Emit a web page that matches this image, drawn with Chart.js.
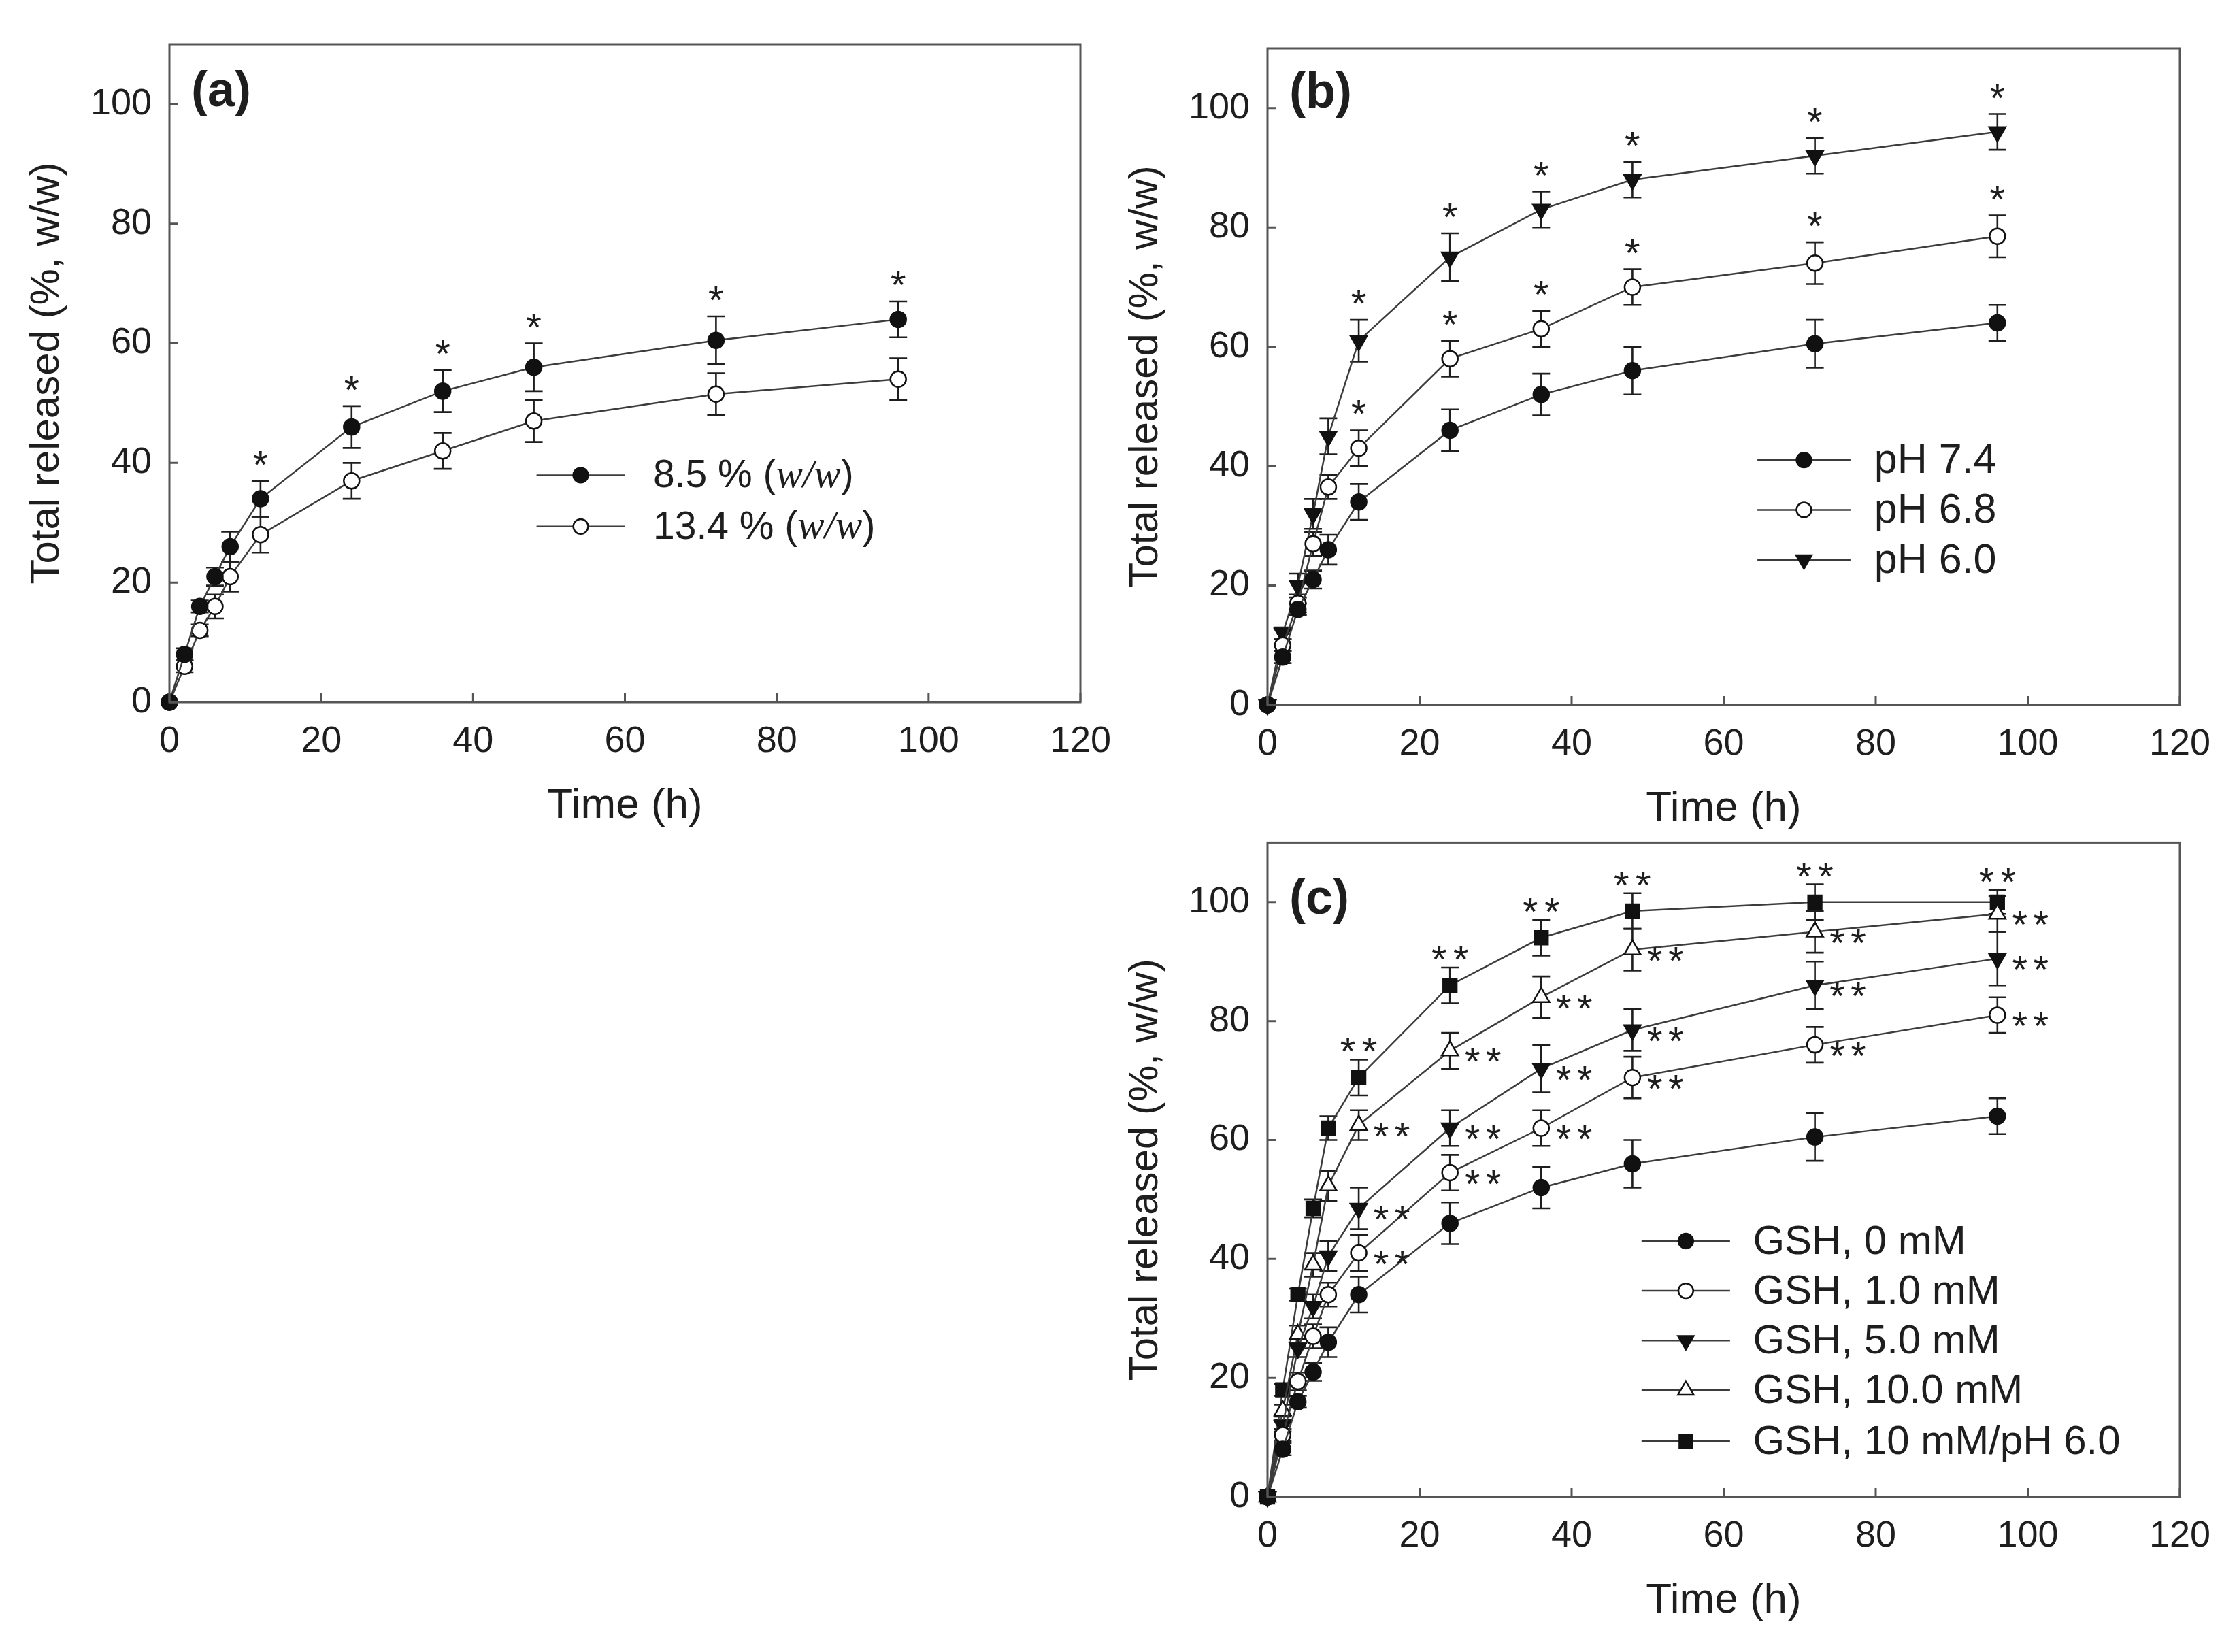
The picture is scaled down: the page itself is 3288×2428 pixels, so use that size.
<!DOCTYPE html>
<html>
<head>
<meta charset="utf-8">
<script src="https://cdn.jsdelivr.net/npm/chart.js@4.4.0/dist/chart.umd.min.js"></script>
<style>
  html, body { margin: 0; padding: 0; background: #fff; }
  body { width: 3288px; height: 2428px; position: relative; overflow: hidden; }
  canvas { position: absolute; }
</style>
</head>
<body>
<canvas id="ca" width="1660" height="1230" style="left:0px;top:0px"></canvas>
<canvas id="cb" width="1668" height="1230" style="left:1620px;top:0px"></canvas>
<canvas id="cc" width="1668" height="1248" style="left:1620px;top:1180px"></canvas>
<script>
// sampling times (h)
const time = [0, 2, 4, 6, 8, 12, 24, 36, 48, 72, 96];

// (a) loading content
const load85 = [0, 8, 16, 21, 26, 34, 46, 52, 56, 60.5, 64];
const load85Err = [0, 1, 1, 1.5, 2.5, 3, 3.5, 3.5, 4, 4, 3];
const load134 = [0, 6, 12, 16, 21, 28, 37, 42, 47, 51.5, 54];
const load134Err = [0, 1, 1, 2, 2.5, 3, 3, 3, 3.5, 3.5, 3.5];

// (b) pH
const ph74 = [0, 8, 16, 21, 26, 34, 46, 52, 56, 60.5, 64];
const ph74Err = [0, 1, 1, 1.5, 2.5, 3, 3.5, 3.5, 4, 4, 3];
const ph68 = [0, 10, 17, 27, 36.5, 43, 58, 63, 70, 74, 78.5];
const ph68Err = [0, 1, 1.5, 2, 2, 3, 3, 3, 3, 3.5, 3.5];
const ph60 = [0, 12, 20, 32, 45, 61, 75, 83, 88, 92, 96];
const ph60Err = [0, 1, 2, 2.5, 3, 3.5, 4, 3, 3, 3, 3];

// (c) GSH
const gsh0 = [0, 8, 16, 21, 26, 34, 46, 52, 56, 60.5, 64];
const gsh0Err = [0, 1, 1, 1.5, 2.5, 3, 3.5, 3.5, 4, 4, 3];
const gsh1 = [0, 10.4, 19.4, 27, 34, 41, 54.5, 62, 70.5, 76, 81];
const gsh1Err = [0, 1, 1.5, 2, 2, 3, 3, 3, 3.5, 3, 3];
const gsh5 = [0, 12, 25, 32, 40.5, 48.5, 62, 72, 78.5, 86, 90.5];
const gsh5Err = [0, 1, 1.5, 2, 2.5, 3.5, 3, 4, 3.5, 4, 4.5];
const gsh10 = [0, 14.5, 27.3, 39, 52.3, 62.5, 75, 84, 92, 95, 98];
const gsh10Err = [0, 1, 1.5, 2, 2.5, 2.5, 3, 3.5, 3.5, 3.5, 3];
const gsh10ph6 = [0, 18, 34, 48.5, 62, 70.5, 86, 94, 98.5, 100, 100];
const gsh10ph6Err = [0, 1, 1, 1.5, 2, 3, 3, 3, 3, 3, 2];

// indices of time points marked significant
const starIdx = [5, 6, 7, 8, 9, 10];

const xTicks = [0, 20, 40, 60, 80, 100, 120];
const yTicks = [0, 20, 40, 60, 80, 100];

const NARROW = '"Liberation Sans Narrow", "Arial Narrow", "Liberation Sans", Arial, sans-serif';
const SANS = '"Liberation Sans", Arial, sans-serif';
const SERIF = '"Liberation Serif", "DejaVu Serif", serif';
const INK = '#1e1e1e';

function starGlyph(ctx, cx, cy) {
  ctx.font = '58px ' + SANS;
  ctx.textAlign = 'center';
  ctx.textBaseline = 'alphabetic';
  ctx.fillText('*', cx, cy + 34);
}

const decor = {
  id: 'decor',
  beforeDatasetsDraw(chart) {
    const { ctx, scales: { x, y } } = chart;
    ctx.save();
    ctx.strokeStyle = INK;
    ctx.lineWidth = 2.6;
    chart.data.datasets.forEach(ds => {
      ds.data.forEach((p, i) => {
        const e = ds.err[i];
        if (!e) return;
        const px = x.getPixelForValue(p.x);
        const t = y.getPixelForValue(p.y + e);
        const b = y.getPixelForValue(p.y - e);
        ctx.beginPath();
        ctx.moveTo(px, t); ctx.lineTo(px, b);
        ctx.moveTo(px - 13, t); ctx.lineTo(px + 13, t);
        ctx.moveTo(px - 13, b); ctx.lineTo(px + 13, b);
        ctx.stroke();
      });
    });
    ctx.restore();
  },
  afterDraw(chart, args, opts) {
    const { ctx, chartArea: a, scales: { x, y } } = chart;
    ctx.save();
    // frame
    ctx.strokeStyle = '#555';
    ctx.lineWidth = 3;
    ctx.strokeRect(a.left, a.top, a.right - a.left, a.bottom - a.top);
    // inward ticks
    ctx.beginPath();
    xTicks.forEach(v => { const px = x.getPixelForValue(v); ctx.moveTo(px, a.bottom); ctx.lineTo(px, a.bottom - 13); });
    yTicks.forEach(v => { const py = y.getPixelForValue(v); ctx.moveTo(a.left, py); ctx.lineTo(a.left + 13, py); });
    ctx.stroke();

    // significance marks
    ctx.fillStyle = INK;
    chart.data.datasets.forEach(ds => {
      if (!ds.starPos) return;
      starIdx.forEach(i => {
        const p = ds.data[i];
        const px = x.getPixelForValue(p.x);
        if (ds.starPos === 'above1') {
          starGlyph(ctx, px, y.getPixelForValue(p.y + ds.err[i]) - 38);
        } else if (ds.starPos === 'above2') {
          const cy = y.getPixelForValue(p.y + ds.err[i]) - 26;
          starGlyph(ctx, px - 16, cy); starGlyph(ctx, px + 16, cy);
        } else {
          const cy = y.getPixelForValue(p.y) + 2;
          starGlyph(ctx, px + 33, cy); starGlyph(ctx, px + 64, cy);
        }
      });
    });

    // panel tag
    ctx.font = 'bold 72px ' + SANS;
    ctx.textAlign = 'left';
    ctx.textBaseline = 'middle';
    ctx.fillText(opts.tag, a.left + 32, a.top + opts.tagDy);

    // legend
    const w = a.right - a.left, h = a.bottom - a.top;
    const L = opts.legend;
    chart.data.datasets.forEach((ds, k) => {
      const ly = a.top + h * L.rows[k];
      const x1 = a.left + w * L.x1, x2 = a.left + w * L.x2;
      ctx.strokeStyle = '#3c3c3c';
      ctx.lineWidth = 2.5;
      ctx.beginPath(); ctx.moveTo(x1, ly); ctx.lineTo(x2, ly); ctx.stroke();
      ctx.fillStyle = ds.pointBackgroundColor;
      ctx.strokeStyle = '#111';
      Chart.helpers.drawPoint(ctx, {
        pointStyle: ds.pointStyle, rotation: ds.rotation || 0,
        radius: ds.pointRadius * 0.95, borderWidth: 2.5
      }, (x1 + x2) / 2, ly);
      // label, parts between | are italic
      let tx = a.left + w * L.tx;
      ctx.fillStyle = INK;
      ctx.textAlign = 'left';
      ctx.textBaseline = 'middle';
      ds.label.split('|').forEach((part, j) => {
        ctx.font = j % 2 ? 'italic ' + (L.size + 2) + 'px ' + SERIF : L.size + 'px ' + NARROW;
        ctx.fillText(part, tx, ly + 2);
        tx += ctx.measureText(part).width;
      });
    });
    ctx.restore();
  }
};

function series(label, values, err, style, fill, radius, extra) {
  return Object.assign({
    label: label,
    data: values.map((v, i) => ({ x: time[i], y: v })),
    err: err,
    borderColor: '#3c3c3c',
    borderWidth: 2.5,
    pointStyle: style,
    pointRadius: radius,
    pointHoverRadius: radius,
    pointBackgroundColor: fill,
    pointBorderColor: '#111',
    pointBorderWidth: 2.5,
    tension: 0,
    clip: false
  }, extra || {});
}

function makeChart(id, lay, datasets, tag, legend) {
  return new Chart(document.getElementById(id), {
    type: 'line',
    data: { datasets: datasets },
    options: {
      responsive: false,
      animation: false,
      devicePixelRatio: 1,
      layout: { padding: { left: 0, top: lay.top, right: lay.right, bottom: 0 } },
      plugins: {
        legend: { display: false },
        tooltip: { enabled: false },
        decor: { tag: tag, tagDy: lay.tagDy, legend: legend }
      },
      scales: {
        x: {
          type: 'linear', min: 0, max: 120,
          grid: { display: false, drawTicks: false },
          border: { display: false },
          ticks: { stepSize: 20, padding: 26, color: INK, font: { family: NARROW, size: 54 } },
          title: { display: true, text: 'Time (h)', color: INK,
                   font: { family: NARROW, size: 62, lineHeight: 1 }, padding: { top: 0, bottom: lay.xtPad } },
          afterFit: s => { s.height = lay.xh; }
        },
        y: {
          min: 0, max: 110,
          grid: { display: false, drawTicks: false },
          border: { display: false },
          ticks: { stepSize: 20, includeBounds: false, padding: 26, color: INK, font: { family: NARROW, size: 54 } },
          title: { display: true, text: 'Total released (%, w/w)', color: INK,
                   font: { family: SANS, size: 60, lineHeight: 1 }, padding: { top: lay.ytPad, bottom: 0 } },
          afterFit: s => { s.width = lay.yw; }
        }
      }
    },
    plugins: [decor]
  });
}

makeChart('ca', { top: 65, right: 72, yw: 249, xh: 198, xtPad: 14, ytPad: 39, tagDy: 71 }, [
  series('8.5 % (|w/w|)', load85, load85Err, 'circle', '#111', 11.5, { starPos: 'above1' }),
  series('13.4 % (|w/w|)', load134, load134Err, 'circle', '#fff', 11.5)
], '(a)', { x1: 0.403, x2: 0.50, tx: 0.531, rows: [0.655, 0.733], size: 57 });

makeChart('cb', { top: 71, right: 84, yw: 243, xh: 194, xtPad: 10, ytPad: 34, tagDy: 67 }, [
  series('pH 7.4', ph74, ph74Err, 'circle', '#111', 11.5),
  series('pH 6.8', ph68, ph68Err, 'circle', '#fff', 11.5, { starPos: 'above1' }),
  series('pH 6.0', ph60, ph60Err, 'triangle', '#111', 14, { rotation: 180, starPos: 'above1' })
], '(b)', { x1: 0.537, x2: 0.639, tx: 0.665, rows: [0.627, 0.703, 0.779], size: 61 });

makeChart('cc', { top: 53, right: 84, yw: 243, xh: 228, xtPad: 44, ytPad: 34, tagDy: 85 }, [
  series('GSH, 0 mM', gsh0, gsh0Err, 'circle', '#111', 11.5),
  series('GSH, 1.0 mM', gsh1, gsh1Err, 'circle', '#fff', 11.5, { starPos: 'right' }),
  series('GSH, 5.0 mM', gsh5, gsh5Err, 'triangle', '#111', 14, { rotation: 180, starPos: 'right' }),
  series('GSH, 10.0 mM', gsh10, gsh10Err, 'triangle', '#fff', 14, { starPos: 'right' }),
  series('GSH, 10 mM/pH 6.0', gsh10ph6, gsh10ph6Err, 'rect', '#111', 14, { starPos: 'above2' })
], '(c)', { x1: 0.41, x2: 0.507, tx: 0.532, rows: [0.609, 0.685, 0.761, 0.837, 0.915], size: 60 });
</script>
</body>
</html>
